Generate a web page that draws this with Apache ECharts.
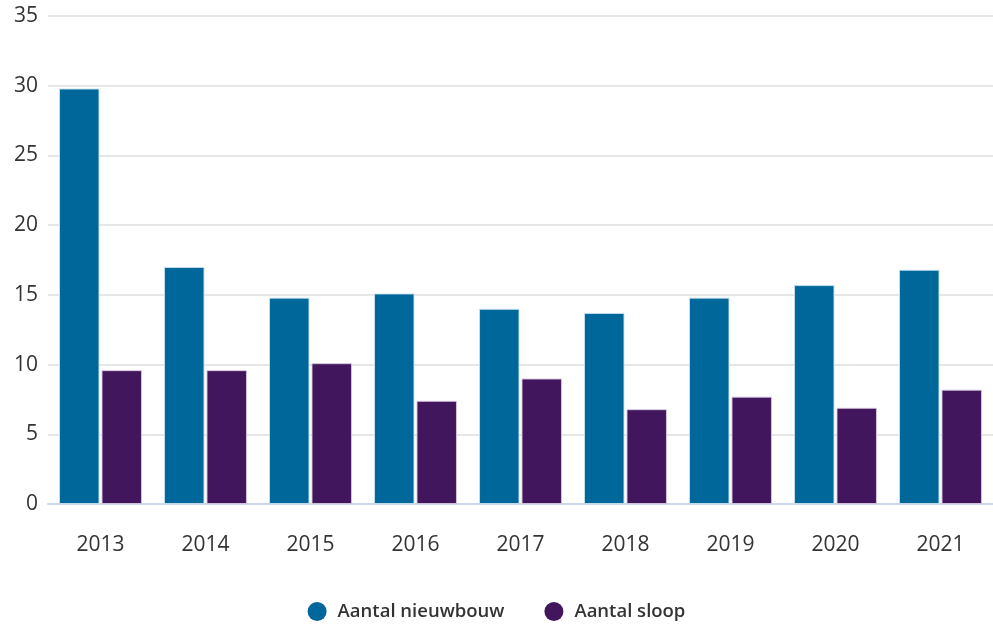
<!DOCTYPE html>
<html>
<head>
<meta charset="utf-8">
<script src="https://cdn.jsdelivr.net/npm/echarts@6/dist/echarts.min.js"></script>
<style>
  html, body { margin: 0; padding: 0; background: #fff; }
  #main { width: 993px; height: 628px; }
</style>
</head>
<body>
<div id="main"></div>
<script>
// jaren en waarden
const years = ["2013", "2014", "2015", "2016", "2017", "2018", "2019", "2020", "2021"];
const nieuwbouw = [29.8, 17.0, 14.8, 15.1, 14.0, 13.7, 14.8, 15.7, 16.8];
const sloop = [9.6, 9.6, 10.1, 7.4, 9.0, 6.8, 7.7, 6.9, 8.2];
const seriesNames = ["Aantal nieuwbouw", "Aantal sloop"];

const myChart = echarts.init(document.getElementById("main"));

const option = {
  textStyle: { fontFamily: "Open Sans" },
  animation: false,
  grid: { left: 48, right: 0, top: 16, bottom: 124 },
  legend: {
    top: 597,
    left: "center",
    icon: "circle",
    itemWidth: 19,
    itemHeight: 19,
    itemGap: 40,
    data: seriesNames,
    itemStyle: { borderWidth: 0 },
    textStyle: { color: "#333", fontSize: 18.5, fontWeight: 600, padding: [0, 0, 0, 6] }
  },
  xAxis: {
    type: "category",
    data: years,
    axisLine: { lineStyle: { color: "#ccd6eb", width: 2 } },
    axisTick: { show: false },
    axisLabel: { color: "#333", fontSize: 21, margin: 31 }
  },
  yAxis: {
    type: "value",
    min: 0,
    max: 35,
    interval: 5,
    axisLine: { show: false },
    axisTick: { show: false },
    axisLabel: { color: "#333", fontSize: 21, margin: 10 },
    splitLine: { lineStyle: { color: "#e6e6e6", width: 2 } }
  },
  series: [
    {
      name: seriesNames[0],
      type: "bar",
      data: nieuwbouw,
      barGap: "5%",
      barCategoryGap: "21%",
      itemStyle: { color: "#00679a", borderColor: "rgba(200,225,240,0.9)", borderWidth: 1 }
    },
    {
      name: seriesNames[1],
      type: "bar",
      data: sloop,
      itemStyle: { color: "#42165c", borderColor: "rgba(215,200,225,0.9)", borderWidth: 1 }
    }
  ]
};

myChart.setOption(option);
</script>
</body>
</html>
